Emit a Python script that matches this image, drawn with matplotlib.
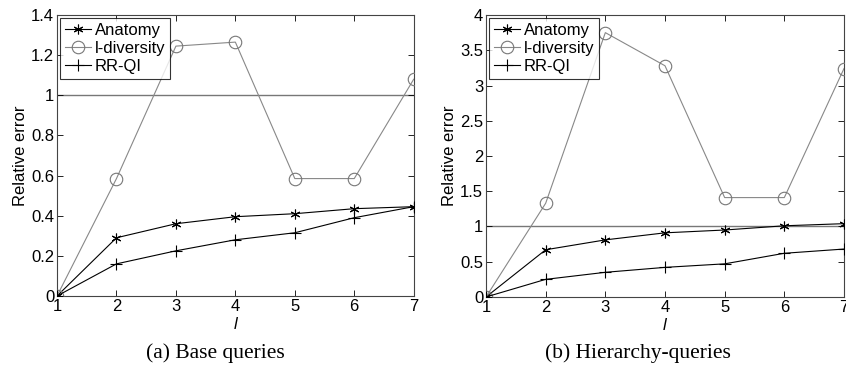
import matplotlib
matplotlib.use("Agg")
import matplotlib.pyplot as plt
from matplotlib.ticker import FuncFormatter

# l values shared by both panels
l_values = [1, 2, 3, 4, 5, 6, 7]

# (a) Base queries
base_anatomy = [0, 0.29, 0.36, 0.395, 0.41, 0.435, 0.445]
base_ldiv = [0, 0.585, 1.245, 1.265, 0.585, 0.585, 1.08]
base_rrqi = [0, 0.16, 0.225, 0.28, 0.315, 0.39, 0.445]

# (b) Hierarchy-queries
hier_anatomy = [0, 0.67, 0.81, 0.91, 0.95, 1.01, 1.04]
hier_ldiv = [0, 1.33, 3.75, 3.28, 1.41, 1.41, 3.24]
hier_rrqi = [0, 0.25, 0.35, 0.42, 0.47, 0.62, 0.68]

series_names = ["Anatomy", "l-diversity", "RR-QI"]

plt.rcParams["font.family"] = ["Liberation Sans", "DejaVu Sans"]

fig = plt.figure(figsize=(8.46, 3.68), dpi=100)
ax_a = fig.add_axes([0.0674, 0.1957, 0.4216, 0.7635])
ax_b = fig.add_axes([0.5745, 0.1930, 0.4231, 0.7662])


def draw_panel(ax, anatomy, ldiv, rrqi, ymax, ystep):
    ax.axhline(1, color="#777777", lw=1.0, zorder=1)
    ax.plot(l_values, anatomy, color="black", lw=0.8, marker=(6, 2, 0),
            markersize=7, markeredgewidth=0.8, label=series_names[0], zorder=3)
    ax.plot(l_values, ldiv, color="#888888", lw=0.8, marker="o",
            markersize=9, markerfacecolor="none", markeredgecolor="#777777",
            markeredgewidth=0.8, label=series_names[1], zorder=3)
    ax.plot(l_values, rrqi, color="black", lw=0.8, marker="+",
            markersize=9, markeredgewidth=0.8, label=series_names[2], zorder=3)

    ax.set_xlim(1, 7)
    ax.set_ylim(0, ymax)
    ax.set_xticks(l_values)
    yt = [i * ystep for i in range(int(round(ymax / ystep)) + 1)]
    ax.set_yticks(yt)
    ax.yaxis.set_major_formatter(FuncFormatter(lambda v, p: "%g" % round(v, 3)))
    ax.tick_params(direction="in", top=True, right=True, labelsize=12,
                   length=4, width=0.6, pad=2)
    for s in ax.spines.values():
        s.set_color("#444444")
        s.set_linewidth(0.8)
    ax.set_xlabel("l", fontsize=12, style="italic", labelpad=2)
    ax.set_ylabel("Relative error", fontsize=12, labelpad=2)

    leg = ax.legend(loc="upper left", fontsize=12, frameon=True, fancybox=False,
                    edgecolor="black", handlelength=1.6, handletextpad=0.2,
                    borderpad=0.3, labelspacing=0.2, borderaxespad=0.15)
    leg.get_frame().set_linewidth(0.8)


draw_panel(ax_a, base_anatomy, base_ldiv, base_rrqi, 1.4, 0.2)
draw_panel(ax_b, hier_anatomy, hier_ldiv, hier_rrqi, 4.0, 0.5)

serif = ["Liberation Serif", "DejaVu Serif"]
fig.text(215 / 846, 1 - 353 / 368, "(a) Base queries", ha="center", va="center",
         fontsize=15.5, family=serif)
fig.text(638 / 846, 1 - 353 / 368, "(b) Hierarchy-queries", ha="center", va="center",
         fontsize=15.5, family=serif)

fig.savefig("out.png", dpi=100)
